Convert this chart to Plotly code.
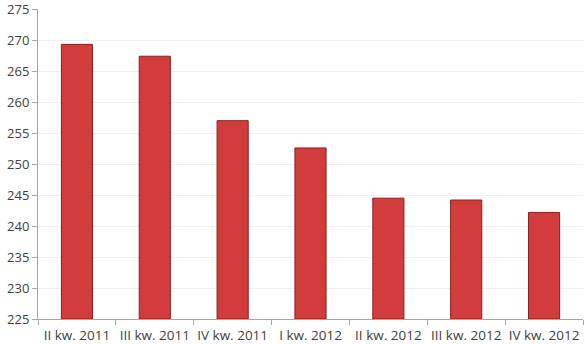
import plotly.graph_objects as go

categories = ["II kw. 2011", "III kw. 2011", "IV kw. 2011", "I kw. 2012",
              "II kw. 2012", "III kw. 2012", "IV kw. 2012"]
values = [269.3, 267.4, 257.0, 252.6, 244.5, 244.2, 242.2]
y_ticks = [225, 230, 235, 240, 245, 250, 255, 260, 265, 270, 275]
base_value = 225

fig = go.Figure(go.Bar(
    x=categories, y=[v - base_value for v in values],
    base=base_value,
    width=0.4,
    marker=dict(color="#d23c3c", line=dict(color="#8a2020", width=1)),
))

fig.update_layout(
    width=585, height=344,
    margin=dict(l=38, r=2, t=9, b=25),
    paper_bgcolor="white", plot_bgcolor="white",
    showlegend=False,
    font=dict(family="Open Sans, Liberation Sans, sans-serif", size=13, color="#404040"),
)
fig.update_xaxes(
    showline=True, linecolor="#a6a6a6", linewidth=1,
    ticks="outside", tickson="boundaries", ticklen=5, tickcolor="#a6a6a6",
    showgrid=False, tickfont=dict(size=13.5), tickangle=0, ticklabelstandoff=4,
    ticklabeloverflow="allow", automargin=False,
)
fig.update_yaxes(
    range=[225, 275.02], tickvals=y_ticks, ticktext=[str(t) for t in y_ticks],
    showline=True, linecolor="#a6a6a6", linewidth=1,
    ticks="outside", ticklen=5, tickcolor="#a6a6a6",
    showgrid=True, gridcolor="#efefef", zeroline=False,
    tickfont=dict(size=13), automargin=False, ticklabeloverflow="allow",
)
fig.write_html("out.html")
